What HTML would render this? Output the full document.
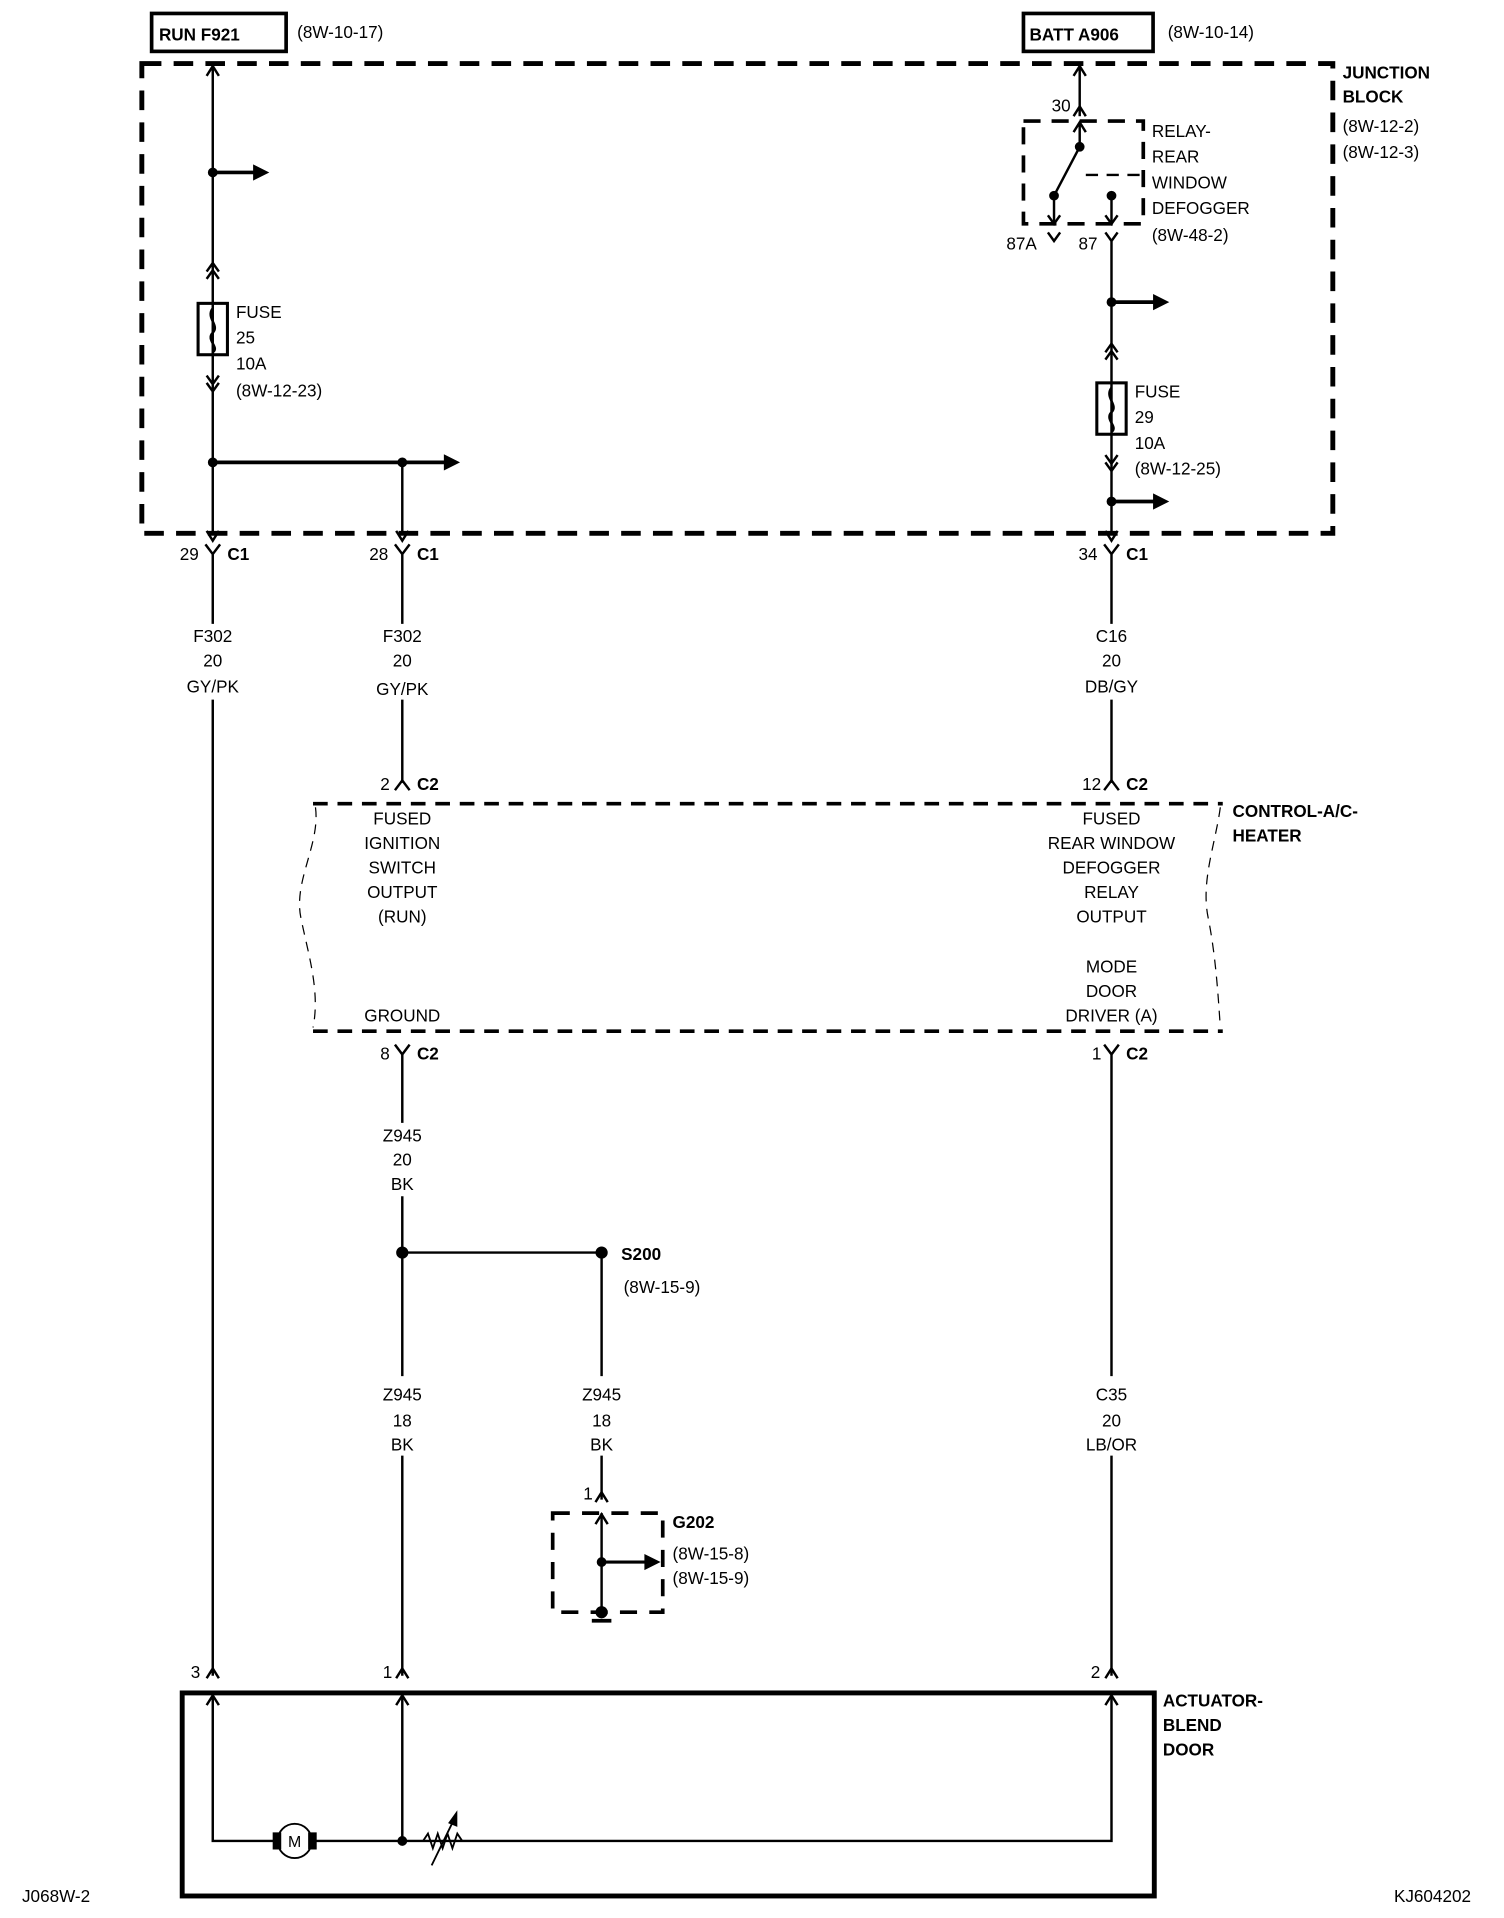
<!DOCTYPE html>
<html><head><meta charset="utf-8"><style>
html,body{margin:0;padding:0;background:#fff}
svg{display:block}
text{font-family:"Liberation Sans Narrow","Liberation Sans",sans-serif;font-size:14px;fill:#000}
.b{font-weight:bold}
.c{text-anchor:middle}
</style></head><body>
<svg width="1504" height="1918" viewBox="0 0 1230 1568" preserveAspectRatio="none" xmlns="http://www.w3.org/2000/svg">
<g fill="none" stroke="#000" stroke-width="2">
<rect x="124" y="11" width="110" height="31" stroke-width="3"/>
<rect x="837" y="11" width="106" height="31" stroke-width="3"/>
<rect x="116" y="52" width="974" height="384" stroke-width="4" stroke-dasharray="16,10"/>
<path d="M174 52V436"/>
<path d="M169 62L174 54L179 62"/>
<path d="M169 434L174 442L179 434"/>
<path d="M174 141H210" stroke-width="3"/><path d="M208 136L218 141L208 146Z" fill="#000"/>
<circle cx="174" cy="141" r="3" fill="#000"/>
<path d="M169 222L174 215L179 222M169 228L174 221L179 228"/>
<rect x="162" y="248" width="24" height="42" stroke-width="2.5"/>
<path d="M174 252c-6 8 6 14 0 20s6 12 0 16"/>
<path d="M169 307L174 314L179 307M169 313L174 320L179 313"/>
<path d="M174 378H366" stroke-width="3"/><path d="M364 373L374 378L364 383Z" fill="#000"/>
<circle cx="174" cy="378" r="3" fill="#000"/><circle cx="329" cy="378" r="3" fill="#000"/>
<path d="M329 378V436"/><path d="M324 434L329 442L334 434"/>
<path d="M883 52V95"/><path d="M878 62L883 54L888 62"/><path d="M878 95L883 87L888 95"/>
<rect x="837" y="99" width="98" height="84" stroke-width="3" stroke-dasharray="14,9"/>
<path d="M883 100V120"/><path d="M878 108L883 100L888 108"/>
<path d="M883 120L862 160"/><path d="M888 143H935" stroke-dasharray="10,7"/>
<circle cx="883" cy="120" r="3" fill="#000"/><circle cx="862" cy="160" r="3" fill="#000"/><circle cx="909" cy="160" r="3" fill="#000"/>
<path d="M862 160V182M909 160V182"/><path d="M857 176L862 183L867 176M904 176L909 183L914 176"/>
<path d="M857 190L862 197L867 190"/>
<path d="M904 190L909 197L914 190M909 197V436"/>
<path d="M909 247H946" stroke-width="3"/><path d="M944 242L954 247L944 252Z" fill="#000"/><circle cx="909" cy="247" r="3" fill="#000"/>
<path d="M904 288L909 281L914 288M904 294L909 287L914 294"/>
<rect x="897" y="313" width="24" height="42" stroke-width="2.5"/>
<path d="M909 317c-6 8 6 14 0 20s6 12 0 16"/>
<path d="M904 372L909 379L914 372M904 378L909 385L914 378"/>
<path d="M909 410H946" stroke-width="3"/><path d="M944 405L954 410L944 415Z" fill="#000"/><circle cx="909" cy="410" r="3" fill="#000"/>
<path d="M904 434L909 442L914 434"/>
<path d="M168 445L174 453L180 445M174 453V510M174 572V1370"/>
<path d="M323 445L329 453L335 445M329 453V510M329 572V640"/>
<path d="M903 445L909 453L915 445M909 453V510M909 572V640"/>
<path d="M323 646L329 638L335 646M903 646L909 638L915 646"/>
<path d="M256 657H1000M256 843H1000" stroke-width="3" stroke-dasharray="12,8"/>
<path d="M258 660C262 690 240 720 246 750S262 810 256 840M998 660C994 690 982 720 988 750S996 810 998 840" stroke-width="1" stroke-dasharray="8,6"/>
<path d="M323 854L329 862L335 854M329 862V918M329 978V1125M329 1190V1370"/>
<path d="M903 854L909 862L915 854M909 862V1125M909 1190V1370"/>
<path d="M329 1024H492"/><circle cx="329" cy="1024" r="4" fill="#000"/><circle cx="492" cy="1024" r="4" fill="#000"/>
<path d="M492 1024V1125M492 1190V1226"/><path d="M487 1228L492 1220L497 1228"/>
<rect x="452" y="1237" width="90" height="81" stroke-width="3" stroke-dasharray="14,10"/>
<path d="M492 1237V1318"/><path d="M487 1246L492 1238L497 1246"/>
<path d="M492 1277H530" stroke-width="2.5"/><path d="M528 1272L538 1277L528 1282Z" fill="#000"/><circle cx="492" cy="1277" r="3" fill="#000"/>
<circle cx="492" cy="1318" r="4" fill="#000"/><path d="M484 1325H500" stroke-width="3"/>
<path d="M169 1372L174 1364L179 1372M324 1372L329 1364L334 1372M904 1372L909 1364L914 1372"/>
<rect x="149" y="1384" width="795" height="166" stroke-width="4"/>
<path d="M174 1386V1505H227M255 1505H389M909 1386V1505H389M329 1386V1505"/>
<path d="M169 1394L174 1386L179 1394M324 1394L329 1386L334 1394M904 1394L909 1386L914 1394"/>
<circle cx="241" cy="1505" r="14" stroke-width="1.5"/>
<rect x="224" y="1499" width="5" height="12" fill="#000"/><rect x="253" y="1499" width="5" height="12" fill="#000"/>
<circle cx="329" cy="1505" r="3" fill="#000"/>
<path d="M346 1505l4-6 4 12 4-12 4 12 4-12 4 12 4-12 4 6" stroke-width="1.5"/>
<path d="M353 1525L372 1486" stroke-width="1.5"/><path d="M368 1490L373 1483L373 1492Z" fill="#000"/>
</g>
<text x="241" y="1510" class="c" style="font-size:13px">M</text>
<text class="b" x="130" y="33">RUN F921</text>
<text x="243" y="31">(8W-10-17)</text>
<text class="b" x="842" y="33">BATT A906</text>
<text x="955" y="31">(8W-10-14)</text>
<text class="b" x="1098" y="64">JUNCTION</text><text class="b" x="1098" y="84">BLOCK</text>
<text x="1098" y="108">(8W-12-2)</text><text x="1098" y="129">(8W-12-3)</text>
<text x="193" y="260">FUSE</text><text x="193" y="281">25</text><text x="193" y="302">10A</text><text x="193" y="324">(8W-12-23)</text>
<text x="860" y="91">30</text>
<text x="942" y="112">RELAY-</text><text x="942" y="133">REAR</text><text x="942" y="154">WINDOW</text><text x="942" y="175">DEFOGGER</text><text x="942" y="197">(8W-48-2)</text>
<text x="823" y="204">87A</text><text x="882" y="204">87</text>
<text x="928" y="325">FUSE</text><text x="928" y="346">29</text><text x="928" y="367">10A</text><text x="928" y="388">(8W-12-25)</text>
<text x="147" y="458">29</text><text class="b" x="186" y="458">C1</text>
<text x="302" y="458">28</text><text class="b" x="341" y="458">C1</text>
<text x="882" y="458">34</text><text class="b" x="921" y="458">C1</text>
<text class="c" x="174" y="525">F302</text><text class="c" x="174" y="545">20</text><text class="c" x="174" y="566">GY/PK</text>
<text class="c" x="329" y="525">F302</text><text class="c" x="329" y="545">20</text><text class="c" x="329" y="568">GY/PK</text>
<text class="c" x="909" y="525">C16</text><text class="c" x="909" y="545">20</text><text class="c" x="909" y="566">DB/GY</text>
<text class="c" x="329" y="674">FUSED</text><text class="c" x="329" y="694">IGNITION</text><text class="c" x="329" y="714">SWITCH</text><text class="c" x="329" y="734">OUTPUT</text><text class="c" x="329" y="754">(RUN)</text><text class="c" x="329" y="835">GROUND</text>
<text class="c" x="909" y="674">FUSED</text><text class="c" x="909" y="694">REAR WINDOW</text><text class="c" x="909" y="714">DEFOGGER</text><text class="c" x="909" y="734">RELAY</text><text class="c" x="909" y="754">OUTPUT</text>
<text class="c" x="909" y="795">MODE</text><text class="c" x="909" y="815">DOOR</text><text class="c" x="909" y="835">DRIVER (A)</text>
<text class="c" x="329" y="933">Z945</text><text class="c" x="329" y="953">20</text><text class="c" x="329" y="973">BK</text>
<text class="c" x="329" y="1145">Z945</text><text class="c" x="329" y="1166">18</text><text class="c" x="329" y="1186">BK</text>
<text class="c" x="492" y="1145">Z945</text><text class="c" x="492" y="1166">18</text><text class="c" x="492" y="1186">BK</text>
<text class="c" x="909" y="1145">C35</text><text class="c" x="909" y="1166">20</text><text class="c" x="909" y="1186">LB/OR</text>
<text x="311" y="646">2</text><text class="b" x="341" y="646">C2</text>
<text x="885" y="646">12</text><text class="b" x="921" y="646">C2</text>
<text class="b" x="1008" y="668">CONTROL-A/C-</text><text class="b" x="1008" y="688">HEATER</text>
<text x="311" y="866">8</text><text class="b" x="341" y="866">C2</text>
<text x="893" y="866">1</text><text class="b" x="921" y="866">C2</text>
<text class="b" x="508" y="1030">S200</text><text x="510" y="1057">(8W-15-9)</text>
<text x="477" y="1226">1</text>
<text class="b" x="550" y="1249">G202</text><text x="550" y="1275">(8W-15-8)</text><text x="550" y="1295">(8W-15-9)</text>
<text x="156" y="1372">3</text><text x="313" y="1372">1</text><text x="892" y="1372">2</text>
<text class="b" x="951" y="1395">ACTUATOR-</text><text class="b" x="951" y="1415">BLEND</text><text class="b" x="951" y="1435">DOOR</text>
<text x="18" y="1555">J068W-2</text><text x="1140" y="1555">KJ604202</text>
</svg>
</body></html>
